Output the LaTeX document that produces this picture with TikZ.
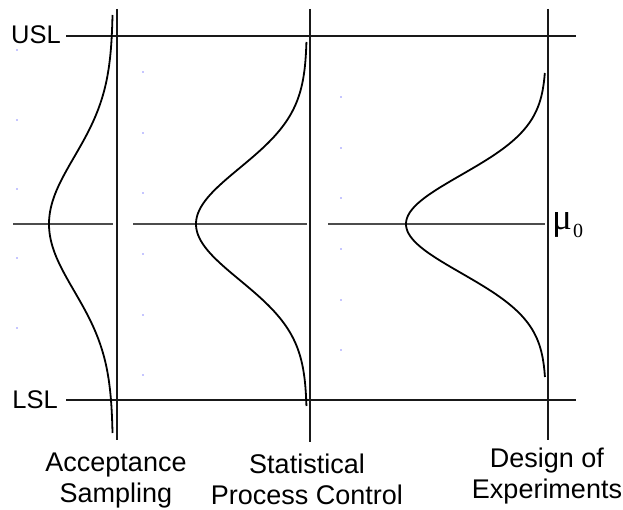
\documentclass[tikz,border=0pt]{standalone}
\usepackage{fontspec}
\setmainfont{Liberation Sans}
\newfontfamily\libserif{Liberation Serif}
\begin{document}
\begin{tikzpicture}[x=1pt,y=-1pt,
  mainline/.style={line width=2pt,black!90},
  midline/.style={line width=2pt,black!70},
  curve/.style={line width=1.8pt,black},
  speck/.style={fill=blue!45,draw=none},
  limlabel/.style={font=\fontsize{25.5}{30}\selectfont,inner sep=0pt,anchor=base east},
  methlabel/.style={font=\fontsize{27}{30.5}\selectfont,inner sep=0pt,anchor=north,align=center}]
\useasboundingbox (0,0) rectangle (623,510);
\fill[white] (0,0) rectangle (623,510);
% limit lines
\coordinate (usla) at (66,36); \coordinate (uslb) at (576,36);
\coordinate (lsla) at (66,400); \coordinate (lslb) at (576,400);
\draw[mainline] (usla) -- (uslb);
\draw[mainline] (lsla) -- (lslb);
% vertical lines
\coordinate (v1a) at (117,9); \coordinate (v1b) at (117,440);
\coordinate (v2a) at (310,9); \coordinate (v2b) at (310,442);
\coordinate (v3a) at (548,9); \coordinate (v3b) at (548,440);
\draw[mainline] (v1a) -- (v1b);
\draw[mainline] (v2a) -- (v2b);
\draw[mainline] (v3a) -- (v3b);
% centre lines
\coordinate (m1a) at (13,224); \coordinate (m1b) at (113,224);
\coordinate (m2a) at (133,224); \coordinate (m2b) at (307,224);
\coordinate (m3a) at (328,224); \coordinate (m3b) at (545,224);
\draw[midline] (m1a) -- (m1b);
\draw[midline] (m2a) -- (m2b);
\draw[midline] (m3a) -- (m3b);
% curves
\draw[curve] plot[domain=15:433,samples=120,variable=\t] ({113-64*exp(-0.5*pow((\t-224)/67,2))},\t);
\draw[curve] plot[domain=42:406,samples=120,variable=\t] ({307-111*exp(-0.5*pow((\t-224)/56,2))},\t);
\draw[curve] plot[domain=73:377,samples=120,variable=\t] ({546-140*exp(-0.5*pow((\t-224)/49,2))},\t);
% specks
\foreach \yy in {50,120,189,258,328} \fill[speck] (17,\yy) circle (0.8);
\foreach \yy in {72,133,193,254,315,375} \fill[speck] (143,\yy) circle (0.8);
\foreach \yy in {97,148,198,249,300,350} \fill[speck] (341,\yy) circle (0.8);
% labels
\node[limlabel] (usl) at (61,44) {USL};
\node[limlabel] (lsl) at (58,408) {LSL};
\node[inner sep=0pt,anchor=base west,font=\libserif\fontsize{37}{37}\selectfont] (mu) at (552,230) {μ};
\node[inner sep=0pt,anchor=base west,font=\libserif\fontsize{20}{20}\selectfont] (sub) at (573,238) {0};
\node[methlabel] (as) at (116,453) {Acceptance\\Sampling};
\node[methlabel] (spc) at (307,454) {Statistical\\Process Control};
\node[methlabel] (doe) at (547,448) {Design of\\Experiments};
\end{tikzpicture}
\end{document}
